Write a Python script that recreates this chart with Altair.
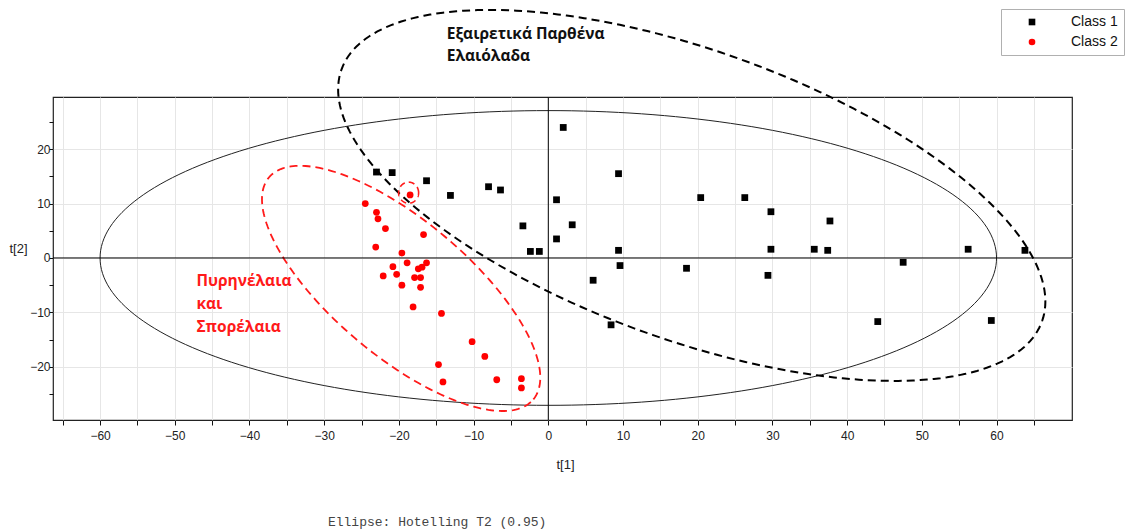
import altair as alt
import numpy as np
import pandas as pd

# ---- data ----
class1_t1 = [-23.0, -20.9, -16.3, -13.1, -8.0, -6.4, -3.4, -2.4, -1.2, 1.1, 1.1, 2.0, 3.2,
             9.4, 9.4, 9.6, 6.0, 8.4, 20.4, 18.5, 26.3, 29.8, 29.8, 29.4, 35.6, 37.4,
             37.7, 44.1, 47.5, 56.2, 59.3, 63.8]
class1_t2 = [15.8, 15.7, 14.2, 11.5, 13.1, 12.5, 5.9, 1.2, 1.2, 10.7, 3.5, 24.0, 6.1,
             15.5, 1.4, -1.4, -4.1, -12.3, 11.1, -1.9, 11.1, 8.5, 1.6, -3.2, 1.6, 1.4,
             6.8, -11.7, -0.8, 1.6, -11.5, 1.4]
class2_t1 = [-18.5, -24.5, -23.0, -22.8, -21.8, -16.7, -23.1, -19.6, -18.9, -16.3, -16.9,
             -17.4, -20.8, -20.3, -22.1, -17.9, -17.1, -19.6, -17.1, -18.1, -14.3, -10.2,
             -8.5, -14.7, -14.1, -6.9, -3.6, -3.6]
class2_t2 = [11.6, 10.0, 8.4, 7.2, 5.4, 4.3, 2.0, 0.9, -0.9, -0.9, -1.7, -2.0, -1.6, -3.0,
             -3.3, -3.6, -3.6, -5.0, -5.4, -9.0, -10.2, -15.4, -18.1, -19.6, -22.8, -22.4,
             -22.2, -23.9]
class_names = ["Class 1", "Class 2"]

# ellipses: centre, first and second semi-axis vectors (data units)
ell_names = ["hotelling", "virgin", "pomace", "single"]
ell_cx = [0.0, 19.2, -19.7, -18.7]
ell_cy = [0.0, 11.5, -5.6, 12.0]
ell_ux = [60.0, 46.9, 17.7, 1.34]
ell_uy = [0.0, -23.1, -20.4, 0.0]
ell_vx = [0.0, 6.4, 5.8, 0.0]
ell_vy = [27.1, 25.1, 9.6, 1.94]

# annotations (position of the first line)
ann_text = ["Εξαιρετικά Παρθένα\nΕλαιόλαδα", "Πυρηνέλαια\nκαι\nΣπορέλαια"]
ann_t1 = [-13.6, -47.1]
ann_t2 = [41.1, -4.2]
footer_text = "Ellipse: Hotelling T2 (0.95)"
footer_t1 = -29.5
footer_t2 = -48.6

# ---- build tables ----
pts = pd.DataFrame({
    "t1": class1_t1 + class2_t1,
    "t2": class1_t2 + class2_t2,
    "cls": [class_names[0]] * len(class1_t1) + [class_names[1]] * len(class2_t1),
})

tt = np.linspace(0, 2 * np.pi, 241)
ell_frames = []
for i, n in enumerate(ell_names):
    ell_frames.append(pd.DataFrame({
        "name": n,
        "idx": np.arange(len(tt)),
        "t1": ell_cx[i] + ell_ux[i] * np.cos(tt) + ell_vx[i] * np.sin(tt),
        "t2": ell_cy[i] + ell_uy[i] * np.cos(tt) + ell_vy[i] * np.sin(tt),
    }))
ell = pd.concat(ell_frames, ignore_index=True)

xticks = list(range(-65, 70, 5))
yticks = list(range(-25, 30, 5))

xenc = alt.X("t1:Q",
             scale=alt.Scale(domain=[-66.3, 70.1], nice=False, zero=False),
             axis=alt.Axis(values=xticks, title="t[1]",
                           labelExpr="datum.value % 10 == 0 ? datum.label : ''",
                           titleX=512, titleY=44, titleBaseline="middle",
                           titleAlign="center", labelPadding=5))
yenc = alt.Y("t2:Q",
             scale=alt.Scale(domain=[-29.8, 29.6], nice=False, zero=False),
             axis=alt.Axis(values=yticks, title="t[2]",
                           labelExpr="datum.value % 10 == 0 ? datum.label : ''",
                           gridOpacity={"condition": {"test": "datum.value % 10 == 0", "value": 1}, "value": 0},
                           titleAngle=0, titleX=-35, titleY=151, titleBaseline="middle",
                           titleAlign="center", labelPadding=-1, tickSize=4))

base_ell = alt.Chart(ell)
hot = base_ell.transform_filter(alt.datum.name == "hotelling").mark_line(
    color="#222", strokeWidth=1, clip=False).encode(x=xenc, y=yenc, order="idx:Q")
virgin = base_ell.transform_filter(alt.datum.name == "virgin").mark_line(
    color="black", strokeWidth=2, strokeDash=[8, 5], clip=False).encode(x=xenc, y=yenc, order="idx:Q")
pomace = base_ell.transform_filter(alt.datum.name == "pomace").mark_line(
    color="#ff1a1a", strokeWidth=1.8, strokeDash=[8, 5], clip=False).encode(x=xenc, y=yenc, order="idx:Q")
single = base_ell.transform_filter(alt.datum.name == "single").mark_line(
    color="#ff1a1a", strokeWidth=1.6, strokeDash=[6, 4], clip=False).encode(x=xenc, y=yenc, order="idx:Q")

zero_df = pd.DataFrame({"t1": [0.0], "t2": [0.0]})
vrule = alt.Chart(zero_df).mark_rule(color="black", strokeWidth=1).encode(x=xenc)
hrule = alt.Chart(zero_df).mark_rule(color="black", strokeWidth=1).encode(y=yenc)

leg = alt.Legend(title=None, orient="none", legendX=948, legendY=-88,
                 fillColor="white", strokeColor="#b0b0b0",
                 padding=6, symbolOffset=18, labelOffset=32,
                 labelFont="Liberation Sans", labelFontSize=14,
                 labelColor="#111", rowPadding=6, symbolSize=44,
                 cornerRadius=0)

points = alt.Chart(pts).mark_point(filled=True, opacity=1, size=46, strokeWidth=0).encode(
    x=xenc, y=yenc,
    color=alt.Color("cls:N", scale=alt.Scale(domain=class_names, range=["black", "red"]), legend=leg),
    shape=alt.Shape("cls:N", scale=alt.Scale(domain=class_names, range=["square", "circle"]), legend=leg),
)

ann_df = pd.DataFrame({"t1": ann_t1, "t2": ann_t2, "txt": ann_text})
ann1 = alt.Chart(ann_df.iloc[[0]]).mark_text(
    align="left", baseline="middle", font="Open Sans", fontWeight="bold", fontSize=15.5,
    lineBreak="\n", lineHeight=22, color="#111", clip=False).encode(x=xenc, y=yenc, text="txt:N")
ann2 = alt.Chart(ann_df.iloc[[1]]).mark_text(
    align="left", baseline="middle", font="Open Sans", fontWeight="bold", fontSize=15.5,
    lineBreak="\n", lineHeight=23, color="#ff1a1a", clip=False).encode(x=xenc, y=yenc, text="txt:N")

foot_df = pd.DataFrame({"t1": [footer_t1], "t2": [footer_t2], "txt": [footer_text]})
foot = alt.Chart(foot_df).mark_text(
    align="left", baseline="middle", font="Liberation Mono", fontSize=13,
    color="#444", clip=False).encode(x=xenc, y=yenc, text="txt:N")

chart = alt.layer(hot, virgin, pomace, single, vrule, hrule, points, ann1, ann2, foot).properties(
    width=1019, height=323,
    padding={"left": 53, "top": 97, "right": 54, "bottom": 109},
    autosize="none",
    background="white",
).configure_view(stroke="#222", strokeWidth=1.2).configure_axis(
    domain=False, tickColor="#111", tickSize=5, labelFont="Liberation Sans",
    labelFontSize=12, labelColor="#222", titleFont="Liberation Sans",
    titleFontSize=13, titleFontWeight="normal", titleColor="#222",
    gridColor="#e6e6e6", gridWidth=1,
)

chart.save("out.html", embed_options={"renderer": "svg", "actions": False})
